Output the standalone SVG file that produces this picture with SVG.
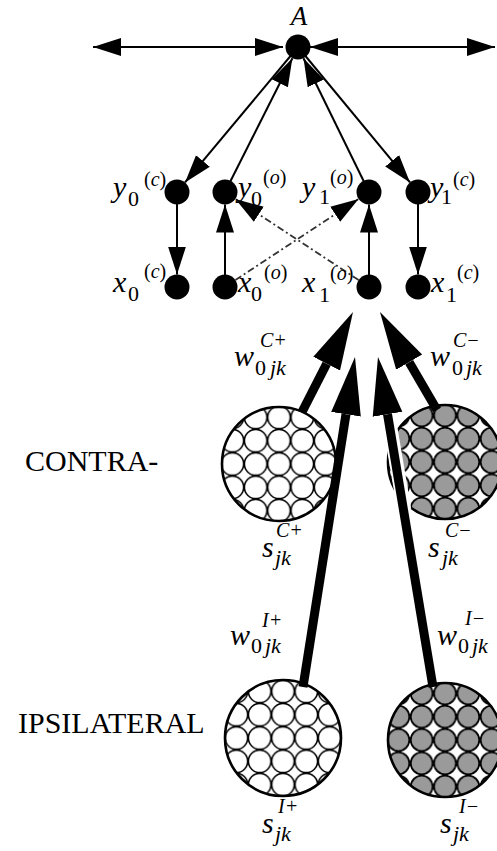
<svg xmlns="http://www.w3.org/2000/svg" width="497" height="851" viewBox="0 0 497 851">
<style>
text { font-family: "Liberation Serif", "Times New Roman", serif; fill: #000; }
.mi { font-size: 30px; font-style: italic; }
.sb { font-size: 22px; }
.sbi { font-size: 22px; font-style: italic; }
.sp { font-size: 20px; }
.spi { font-size: 20px; font-style: italic; }
.cap { font-size: 30px; }
.thin { stroke: #000; stroke-width: 2; fill: none; }
.dash { stroke: #333; stroke-width: 1.8; fill: none; stroke-dasharray: 7 3 2 3; }
.thick { stroke: #000; stroke-width: 9; fill: none; }
.node { fill: #000; }
.big { stroke: #000; stroke-width: 2.6; }
</style>
<defs>
<marker id="ah" markerUnits="userSpaceOnUse" markerWidth="30" markerHeight="20" refX="28" refY="0" viewBox="0 -10 30 20" orient="auto-start-reverse">
<path d="M0,-9 L28,0 L0,9 z" fill="#000"/>
</marker>
<marker id="bh" markerUnits="userSpaceOnUse" markerWidth="60" markerHeight="32" refX="0" refY="0" viewBox="0 -16 60 32" orient="auto">
<path d="M0,-15 L58,0 L0,15 z" fill="#000"/>
</marker>
<pattern id="gw" patternUnits="userSpaceOnUse" x="-11.65" y="-11.65" width="23.3" height="23.3">
<rect width="23.3" height="23.3" fill="#fff"/>
<circle cx="11.65" cy="11.65" r="11.3" fill="none" stroke="#000" stroke-width="1.6"/>
</pattern>
<pattern id="gg" patternUnits="userSpaceOnUse" x="-11.65" y="-11.65" width="23.3" height="23.3">
<rect width="23.3" height="23.3" fill="#fff"/>
<circle cx="11.65" cy="11.65" r="11.0" fill="#9a9a9a" stroke="#000" stroke-width="1.8"/>
</pattern>
</defs>
<rect width="497" height="851" fill="#fff"/>

<g id="pools">
<g id="pool-Cplus" transform="translate(279,464)"><circle r="57" class="big" fill="url(#gw)"/></g>
<g id="pool-Cminus" transform="translate(445,462)"><circle r="57" class="big" fill="url(#gg)"/></g>
<g id="pool-Iplus" transform="translate(283,738)"><circle r="58" class="big" fill="url(#gw)"/></g>
<g id="pool-Iminus" transform="translate(445,740)"><circle r="57" class="big" fill="url(#gg)"/></g>
</g>

<g id="connectors">
<line class="thin" x1="93" y1="47" x2="283" y2="47" marker-start="url(#ah)" marker-end="url(#ah)"/>
<line class="thin" x1="310" y1="47" x2="495" y2="47" marker-start="url(#ah)" marker-end="url(#ah)"/>
<line class="thin" x1="298" y1="47" x2="185" y2="182.4" marker-end="url(#ah)"/>
<line class="thin" x1="225" y1="192" x2="292.4" y2="58.2" marker-end="url(#ah)"/>
<line class="thin" x1="369" y1="192" x2="303.5" y2="58.2" marker-end="url(#ah)"/>
<line class="thin" x1="298" y1="47" x2="410" y2="182.4" marker-end="url(#ah)"/>
<line class="thin" x1="177" y1="192" x2="177" y2="274.5" marker-end="url(#ah)"/>
<line class="thin" x1="225" y1="287" x2="225" y2="204.5" marker-end="url(#ah)"/>
<line class="thin" x1="369" y1="287" x2="369" y2="204.5" marker-end="url(#ah)"/>
<line class="thin" x1="418" y1="192" x2="418" y2="274.5" marker-end="url(#ah)"/>
<line class="dash" x1="235.4" y1="280.1" x2="358.6" y2="198.9" marker-end="url(#ah)"/>
<line class="dash" x1="358.6" y1="280.1" x2="235.4" y2="198.9" marker-end="url(#ah)"/>
<line x1="404.3" y1="510" x2="389.9" y2="425" stroke="#fff" stroke-width="14"/>
<line class="thick" x1="302" y1="412" x2="326.65" y2="363.67" marker-end="url(#bh)"/>
<line class="thick" x1="303" y1="687" x2="345.97" y2="414.29" marker-end="url(#bh)"/>
<line class="thick" x1="433" y1="687" x2="387.53" y2="414.21" marker-end="url(#bh)"/>
<line class="thick" x1="437" y1="410" x2="409.16" y2="362.14" marker-end="url(#bh)"/>
</g>

<g id="nodes">
<g id="node-A"><circle class="node" cx="298" cy="47" r="12.5"/><text class="mi" x="299" y="25" text-anchor="middle" style="font-size:27px">A</text></g>
<g id="node-y0c"><circle class="node" cx="177" cy="192" r="12.5"/><text><tspan class="mi" x="113" y="197">y</tspan><tspan class="sb" x="128" y="206">0</tspan><tspan class="sp" x="144" y="186">(<tspan class="spi">c</tspan>)</tspan></text></g>
<g id="node-y0o"><circle class="node" cx="225" cy="192" r="12.5"/><text><tspan class="mi" x="238" y="197">y</tspan><tspan class="sb" x="251" y="206">0</tspan><tspan class="sp" x="263" y="184">(<tspan class="spi">o</tspan>)</tspan></text></g>
<g id="node-y1o"><circle class="node" cx="369" cy="192" r="12.5"/><text><tspan class="mi" x="302" y="197">y</tspan><tspan class="sb" x="319" y="204">1</tspan><tspan class="sp" x="330" y="184">(<tspan class="spi">o</tspan>)</tspan></text></g>
<g id="node-y1c"><circle class="node" cx="418" cy="192" r="12.5"/><text><tspan class="mi" x="430" y="197">y</tspan><tspan class="sb" x="441" y="204">1</tspan><tspan class="sp" x="453" y="186">(<tspan class="spi">c</tspan>)</tspan></text></g>
<g id="node-x0c"><circle class="node" cx="177" cy="287" r="12.5"/><text><tspan class="mi" x="113" y="292">x</tspan><tspan class="sb" x="128" y="301">0</tspan><tspan class="sp" x="144" y="278">(<tspan class="spi">c</tspan>)</tspan></text></g>
<g id="node-x0o"><circle class="node" cx="225" cy="287" r="12.5"/><text><tspan class="mi" x="238" y="292">x</tspan><tspan class="sb" x="251" y="301">0</tspan><tspan class="sp" x="264" y="279">(<tspan class="spi">o</tspan>)</tspan></text></g>
<g id="node-x1o"><circle class="node" cx="369" cy="287" r="12.5"/><text><tspan class="mi" x="302" y="292">x</tspan><tspan class="sb" x="319" y="302">1</tspan><tspan class="sp" x="330" y="280">(<tspan class="spi">o</tspan>)</tspan></text></g>
<g id="node-x1c"><circle class="node" cx="418" cy="287" r="12.5"/><text><tspan class="mi" x="431" y="292">x</tspan><tspan class="sb" x="446" y="302">1</tspan><tspan class="sp" x="457" y="279">(<tspan class="spi">c</tspan>)</tspan></text></g>
</g>

<g id="pool-labels">
<text><tspan class="mi" x="262" y="557">s</tspan><tspan class="sbi" x="275" y="565">jk</tspan><tspan class="spi" x="276" y="537">C+</tspan></text>
<text><tspan class="mi" x="428" y="557">s</tspan><tspan class="sbi" x="442" y="565">jk</tspan><tspan class="spi" x="445" y="537">C−</tspan></text>
<text><tspan class="mi" x="262" y="833">s</tspan><tspan class="sbi" x="275" y="841">jk</tspan><tspan class="spi" x="278" y="813">I+</tspan></text>
<text><tspan class="mi" x="440" y="833">s</tspan><tspan class="sbi" x="453" y="841">jk</tspan><tspan class="spi" x="459" y="813">I−</tspan></text>
</g>

<g id="weight-labels">
<text><tspan class="mi" x="234" y="366">w</tspan><tspan class="sb" x="255" y="375">0</tspan><tspan class="sbi" x="270" y="375">jk</tspan><tspan class="spi" x="260" y="347">C+</tspan></text>
<text><tspan class="mi" x="430" y="366">w</tspan><tspan class="sb" x="452" y="375">0</tspan><tspan class="sbi" x="466" y="375">jk</tspan><tspan class="spi" x="453" y="347">C−</tspan></text>
<text><tspan class="mi" x="230" y="645">w</tspan><tspan class="sb" x="251" y="653">0</tspan><tspan class="sbi" x="265" y="653">jk</tspan><tspan class="spi" x="262" y="627">I+</tspan></text>
<text><tspan class="mi" x="437" y="645">w</tspan><tspan class="sb" x="458" y="653">0</tspan><tspan class="sbi" x="472" y="653">jk</tspan><tspan class="spi" x="465" y="625">I−</tspan></text>
</g>

<g id="side-labels">
<text class="cap" x="25" y="471">CONTRA-</text>
<text class="cap" x="18" y="733">IPSILATERAL</text>
</g>
</svg>
